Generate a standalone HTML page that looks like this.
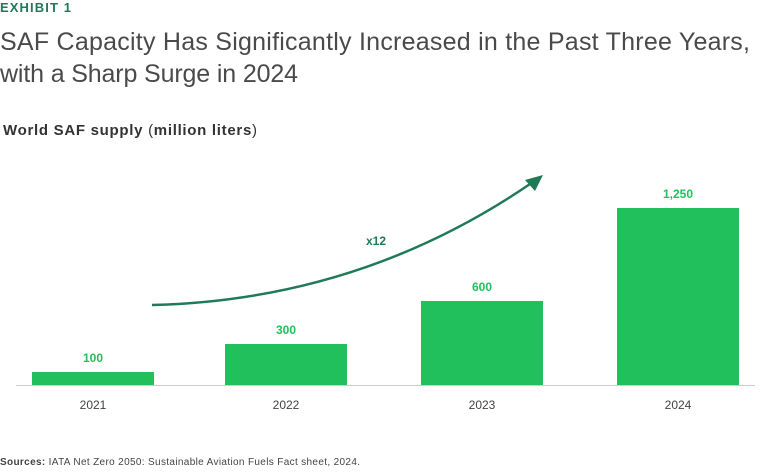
<!DOCTYPE html>
<html><head><style>
body{margin:0;width:768px;height:467px;background:#fff;font-family:"Liberation Sans",sans-serif;overflow:hidden}
</style></head><body>
<svg width="768" height="467" xmlns="http://www.w3.org/2000/svg" font-family="Liberation Sans, sans-serif">
<text x="0" y="12" font-size="13" font-weight="bold" fill="#1e7a57" textLength="71">EXHIBIT 1</text>
<text x="0" y="50" font-size="25" fill="#4a4a4a" textLength="750">SAF Capacity Has Significantly Increased in the Past Three Years,</text>
<text x="0" y="82" font-size="25" fill="#4a4a4a" textLength="298">with a Sharp Surge in 2024</text>
<text x="3" y="135" font-size="15" font-weight="bold" fill="#333" textLength="254">World SAF supply <tspan font-weight="normal">(</tspan>million liters<tspan font-weight="normal">)</tspan></text>
<g fill="#22c05c">
<rect x="32" y="372" width="122" height="13"/>
<rect x="225" y="344" width="122" height="41"/>
<rect x="421" y="301" width="122" height="84"/>
<rect x="617" y="208" width="122" height="177"/>
</g>
<line x1="16" y1="385.5" x2="755" y2="385.5" stroke="#ccc" stroke-width="1"/>
<g font-size="12" font-weight="bold" fill="#22c05c" text-anchor="middle">
<text x="93" y="362">100</text><text x="286" y="334">300</text><text x="482" y="291">600</text><text x="678" y="198">1,250</text>
</g>
<g font-size="12" fill="#444" text-anchor="middle">
<text x="93" y="409">2021</text><text x="286" y="409">2022</text><text x="482" y="409">2023</text><text x="678" y="409">2024</text>
</g>
<path d="M152 305 Q360 300 530 184" fill="none" stroke="#1e7a57" stroke-width="2.5"/>
<polygon points="543,175 525,180 535,191" fill="#1e7a57"/>
<text x="376" y="245" font-size="12" font-weight="bold" fill="#1e7a57" text-anchor="middle">x12</text>
<text x="0" y="465" font-size="10" fill="#444" textLength="360"><tspan font-weight="bold">Sources:</tspan> IATA Net Zero 2050: Sustainable Aviation Fuels Fact sheet, 2024.</text>
</svg>
</body></html>
